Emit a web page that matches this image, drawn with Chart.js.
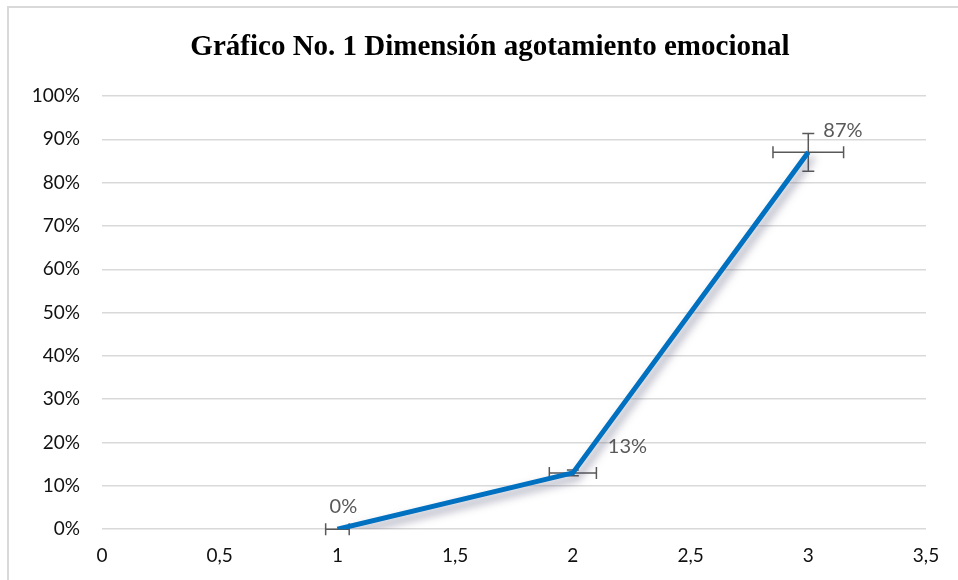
<!DOCTYPE html>
<html>
<head>
<meta charset="utf-8">
<script src="https://cdn.jsdelivr.net/npm/chart.js@4/dist/chart.umd.min.js"></script>
<style>
  body { margin: 0; background: #fff; }
  #marco { position: absolute; left: 7px; top: 6px; width: 1000px; height: 1000px; border: 2px solid #d9d9d9; }
  #caja { position: absolute; left: 0; top: 0; width: 958px; height: 580px; }
</style>
</head>
<body>
<div id="marco"></div>
<div id="caja"><canvas id="grafico"></canvas></div>
<script>
// Datos del gráfico
const titulo = 'Gráfico No. 1 Dimensión agotamiento emocional';
const valoresX = [1, 2, 3];
const valoresY = [0, 0.13, 0.87];
const etiquetas = ['0%', '13%', '87%'];
// barras de error (5%)
const errorX = [0.05, 0.10, 0.15];
const errorY = [0, 0.0065, 0.0435];

const puntos = valoresX.map((x, i) => ({ x: x, y: valoresY[i] }));

// titulo (el marco original es mas ancho que la imagen, por eso va corrido a la derecha)
const tituloGrafico = {
    id: 'tituloGrafico',
    afterDraw(chart) {
        const ctx = chart.ctx;
        ctx.save();
        ctx.font = 'bold 29px "Liberation Serif", "Times New Roman", serif';
        ctx.fillStyle = '#000';
        ctx.textAlign = 'center';
        ctx.textBaseline = 'middle';
        ctx.fillText(titulo, (chart.width + 22) / 2, 48);
        ctx.restore();
    }
};

// sombra de la linea
const sombra = {
    id: 'sombra',
    beforeDatasetDraw(chart) {
        const ctx = chart.ctx;
        ctx.save();
        ctx.shadowColor = 'rgba(60,60,100,0.5)';
        ctx.shadowBlur = 9;
        ctx.shadowOffsetX = 4;
        ctx.shadowOffsetY = 5;
    },
    afterDatasetDraw(chart) {
        chart.ctx.restore();
    }
};

// barras de error
const barrasError = {
    id: 'barrasError',
    beforeDatasetsDraw(chart) {
        const ctx = chart.ctx;
        const sx = chart.scales.x, sy = chart.scales.y;
        ctx.save();
        ctx.strokeStyle = '#595959';
        ctx.lineWidth = 1.5;
        valoresX.forEach((x, i) => {
            const px = sx.getPixelForValue(x);
            const py = sy.getPixelForValue(valoresY[i]);
            const x1 = sx.getPixelForValue(x - errorX[i]);
            const x2 = sx.getPixelForValue(x + errorX[i]);
            const y1 = sy.getPixelForValue(valoresY[i] - errorY[i]);
            const y2 = sy.getPixelForValue(valoresY[i] + errorY[i]);
            ctx.beginPath();
            ctx.moveTo(x1, py); ctx.lineTo(x2, py);
            ctx.moveTo(x1, py - 6); ctx.lineTo(x1, py + 6);
            ctx.moveTo(x2, py - 6); ctx.lineTo(x2, py + 6);
            if (errorY[i] > 0) {
                ctx.moveTo(px, y1); ctx.lineTo(px, y2);
                ctx.moveTo(px - 6, y1); ctx.lineTo(px + 6, y1);
                ctx.moveTo(px - 6, y2); ctx.lineTo(px + 6, y2);
            }
            ctx.stroke();
        });
        ctx.restore();
    }
};

// etiquetas de datos
const posiciones = [
    { dx: 6, dy: -23, align: 'center' },
    { dx: 35, dy: -26, align: 'left' },
    { dx: 15, dy: -22, align: 'left' }
];
const etiquetasDatos = {
    id: 'etiquetasDatos',
    afterDatasetsDraw(chart) {
        const ctx = chart.ctx;
        const sx = chart.scales.x, sy = chart.scales.y;
        ctx.save();
        ctx.font = '20px Lato, "Open Sans", sans-serif';
        ctx.fillStyle = '#595959';
        ctx.textBaseline = 'middle';
        valoresX.forEach((x, i) => {
            const p = posiciones[i];
            ctx.textAlign = p.align;
            ctx.fillText(etiquetas[i], sx.getPixelForValue(x) + p.dx, sy.getPixelForValue(valoresY[i]) + p.dy);
        });
        ctx.restore();
    }
};

new Chart(document.getElementById('grafico'), {
    type: 'line',
    data: {
        datasets: [{
            data: puntos,
            borderColor: '#0070c0',
            borderWidth: 5,
            pointRadius: 0,
            tension: 0,
            fill: false
        }]
    },
    options: {
        responsive: true,
        maintainAspectRatio: false,
        animation: false,
        layout: { padding: { left: 0, right: 32, top: 96, bottom: 6 } },
        plugins: {
            legend: { display: false },
            tooltip: { enabled: false },
            title: { display: false }
        },
        scales: {
            x: {
                type: 'linear',
                min: 0,
                max: 3.5,
                border: { display: false },
                grid: { display: false },
                ticks: {
                    stepSize: 0.5,
                    padding: 7,
                    color: '#111',
                    font: { family: 'Lato, "Open Sans", sans-serif', size: 19 },
                    callback: v => v.toString().replace('.', ',')
                }
            },
            y: {
                min: 0,
                max: 1,
                border: { display: false },
                grid: { color: '#d9d9d9', lineWidth: 1.5, drawTicks: false },
                afterFit: s => { s.width = 102; },
                ticks: {
                    stepSize: 0.1,
                    padding: 22,
                    color: '#111',
                    font: { family: 'Lato, "Open Sans", sans-serif', size: 19 },
                    callback: v => Math.round(v * 100) + '%'
                }
            }
        }
    },
    plugins: [tituloGrafico, sombra, barrasError, etiquetasDatos]
});
</script>
</body>
</html>
